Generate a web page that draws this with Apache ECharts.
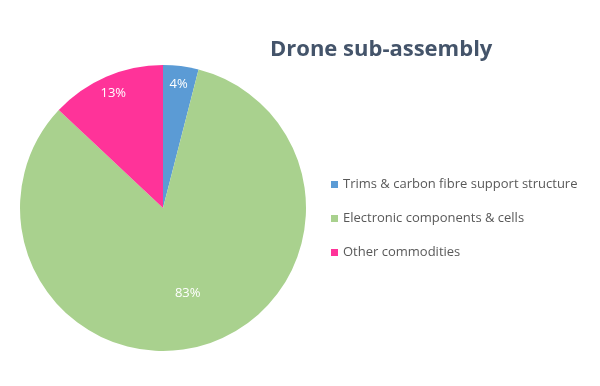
<!DOCTYPE html>
<html><head><meta charset="utf-8">
<script src="https://cdn.jsdelivr.net/npm/echarts@6/dist/echarts.min.js"></script>
<style>html,body{margin:0;padding:0;background:#fff}#c{width:600px;height:386px}</style>
</head><body><div id="c"></div>
<script>
const categories = ['Trims & carbon fibre support structure', 'Electronic components & cells', 'Other commodities'];
const values = [4, 83, 13];
const colors = ['#5B9BD5', '#A9D18E', '#FF3399'];
const titleText = 'Drone sub-assembly';

const CX = 163, CY = 208, R = 143;
const FONT = '"Open Sans", Lato, sans-serif';
const chart = echarts.init(document.getElementById('c'), null, {renderer: 'canvas'});
chart.setOption({
  backgroundColor: '#fff',
  animation: false,
  title: {
    text: titleText, left: 265, top: 34,
    textStyle: {fontFamily: FONT, fontSize: 22, fontWeight: 'bold', color: '#44546A'}
  },
  legend: {
    orient: 'vertical', left: 326, top: 173, itemGap: 21,
    itemWidth: 7, itemHeight: 7, icon: 'rect',
    textStyle: {fontFamily: FONT, fontSize: 13, color: '#595959', padding: [0, 0, 0, 0]},
    data: categories
  },
  series: [{
    type: 'pie', center: [CX, CY], radius: [0, R], startAngle: 90, clockwise: true,
    data: categories.map((n, i) => ({name: n, value: values[i], itemStyle: {color: colors[i]}})),
    label: {
      show: true, position: 'inside', formatter: p => p.value + '%',
      color: '#fff', fontFamily: FONT, fontSize: 13
    },
    labelLine: {show: false},
    labelLayout: function (p) {
      const r = p.labelRect;
      const lx = r.x + r.width / 2, ly = r.y + r.height / 2;
      const dx = lx - CX, dy = ly - CY;
      const d = Math.sqrt(dx * dx + dy * dy) || 1;
      const target = values[p.dataIndex] > 50 ? 0.62 * R : 0.875 * R;
      return {x: CX + dx / d * target, y: CY + dy / d * target, align: 'center', verticalAlign: 'middle'};
    },
    emphasis: {disabled: true}
  }]
});
</script></body></html>
